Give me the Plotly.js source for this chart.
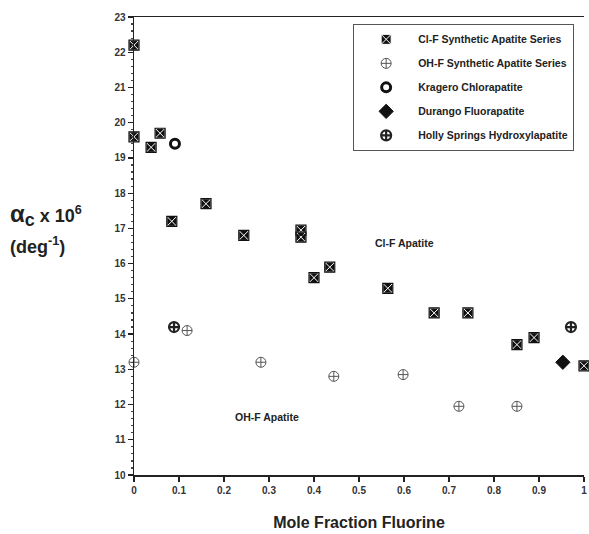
<!DOCTYPE html>
<html>
<head>
<meta charset="utf-8">
<script src="https://cdn.plot.ly/plotly-3.0.1.min.js"></script>
<style>html,body{margin:0;padding:0;background:#fff;}#chart{width:589px;height:534px;}</style>
</head>
<body>
<div id="chart"></div>
<script>
// Cl-F synthetic apatite series
const clfX = [0.0, 0.0, 0.038, 0.058, 0.084, 0.16, 0.244, 0.371, 0.371, 0.40, 0.435, 0.564, 0.667, 0.742, 0.851, 0.889, 1.0];
const clfY = [22.2, 19.6, 19.3, 19.7, 17.2, 17.7, 16.8, 16.95, 16.75, 15.6, 15.9, 15.3, 14.6, 14.6, 13.7, 13.9, 13.1];
// OH-F synthetic apatite series
const ohfX = [0.0, 0.118, 0.282, 0.444, 0.598, 0.722, 0.851];
const ohfY = [13.2, 14.1, 13.2, 12.8, 12.85, 11.95, 11.95];
// Natural samples
const krageroX = [0.091];
const krageroY = [19.4];
const durangoX = [0.953];
const durangoY = [13.2];
const hollyX = [0.089, 0.971];
const hollyY = [14.2, 14.2];

const seriesNames = ["Cl-F Synthetic Apatite Series", "OH-F Synthetic Apatite Series", "Kragero Chlorapatite", "Durango Fluorapatite", "Holly Springs Hydroxylapatite"];
const xTickVals = [0, 0.1, 0.2, 0.3, 0.4, 0.5, 0.6, 0.7, 0.8, 0.9, 1];
const xTickText = ["0", "0.1", "0.2", "0.3", "0.4", "0.5", "0.6", "0.7", "0.8", "0.9", "1"];

const F = "Liberation Sans, Arial, sans-serif";

const traces = [
  {x: clfX, y: clfY, name: seriesNames[0], type: "scatter", mode: "markers", cliponaxis: false, legendgroup: "a",
   marker: {symbol: "square-x", size: 10, color: "#111", line: {color: "#fff", width: 1}}},
  {x: clfX, y: clfY, name: seriesNames[0], type: "scatter", mode: "markers", cliponaxis: false, showlegend: false, legendgroup: "a",
   marker: {symbol: "square-open", size: 10, color: "#111", line: {color: "#111", width: 1.2}}},
  {x: ohfX, y: ohfY, name: seriesNames[1], type: "scatter", mode: "markers", cliponaxis: false, legendgroup: "b",
   marker: {symbol: "circle-cross-open", size: 10, color: "#555", line: {color: "#555", width: 1}}},
  {x: krageroX, y: krageroY, name: seriesNames[2], type: "scatter", mode: "markers", cliponaxis: false, legendgroup: "c",
   marker: {symbol: "circle-open", size: 9, color: "#111", line: {color: "#111", width: 3}}},
  {x: durangoX, y: durangoY, name: seriesNames[3], type: "scatter", mode: "markers", cliponaxis: false, legendgroup: "d",
   marker: {symbol: "diamond", size: 11, color: "#111", line: {color: "#111", width: 1}}},
  {x: hollyX, y: hollyY, name: seriesNames[4], type: "scatter", mode: "markers", cliponaxis: false, legendgroup: "e",
   marker: {symbol: "circle-cross-open", size: 10, color: "#222", line: {color: "#222", width: 2.2}}}
];

const layout = {
  width: 589, height: 534,
  margin: {l: 134, r: 5, t: 17, b: 59},
  paper_bgcolor: "#fff", plot_bgcolor: "#fff",
  font: {family: F, color: "#222"},
  showlegend: true,
  legend: {
    x: 0.487, y: 0.985, xanchor: "left", yanchor: "top",
    bordercolor: "#555", borderwidth: 1, bgcolor: "#fff",
    font: {family: F, size: 10.5, weight: "bold", color: "#222"},
    tracegroupgap: 5, itemwidth: 54,
    traceorder: "grouped"
  },
  xaxis: {
    range: [0, 1], tickvals: xTickVals, ticktext: xTickText,
    showgrid: false, zeroline: false,
    showline: true, linecolor: "#222", linewidth: 1.5, mirror: true,
    ticks: "outside", ticklen: 5, tickcolor: "#222", tickwidth: 1.2,
    tickfont: {family: F, size: 10, weight: "bold", color: "#333"},
    title: {text: "Mole Fraction Fluorine", font: {family: F, size: 16, weight: "bold", color: "#222"}, standoff: 22}
  },
  yaxis: {
    range: [10, 23], dtick: 1,
    showgrid: false, zeroline: false,
    showline: true, linecolor: "#222", linewidth: 1.5,
    ticks: "outside", ticklen: 5, tickcolor: "#222", tickwidth: 1.2,
    minor: {dtick: 0.2, ticks: "outside", ticklen: 2, tickcolor: "#444"},
    tickfont: {family: F, size: 10, weight: "bold", color: "#333"}
  },
  annotations: [
    {xref: "paper", yref: "paper", x: -0.28, y: 0.568, xanchor: "left", yanchor: "middle", align: "left", showarrow: false,
     text: "<span style='font-size:24px'>α</span><sub><span style='font-size:18px'>c</span></sub> x 10<sup>6</sup>",
     font: {family: F, size: 18, weight: "bold", color: "#222"}},
    {xref: "paper", yref: "paper", x: -0.28, y: 0.502, xanchor: "left", yanchor: "middle", align: "left", showarrow: false,
     text: "(deg<sup>-1</sup>)",
     font: {family: F, size: 18, weight: "bold", color: "#222"}},
    {x: 0.60, y: 16.58, xref: "x", yref: "y", showarrow: false, text: "Cl-F Apatite",
     font: {family: F, size: 10.5, weight: "bold", color: "#222"}},
    {x: 0.295, y: 11.64, xref: "x", yref: "y", showarrow: false, text: "OH-F Apatite",
     font: {family: F, size: 10.5, weight: "bold", color: "#222"}}
  ]
};

Plotly.newPlot("chart", traces, layout, {displayModeBar: false, staticPlot: true});
</script>
</body>
</html>
